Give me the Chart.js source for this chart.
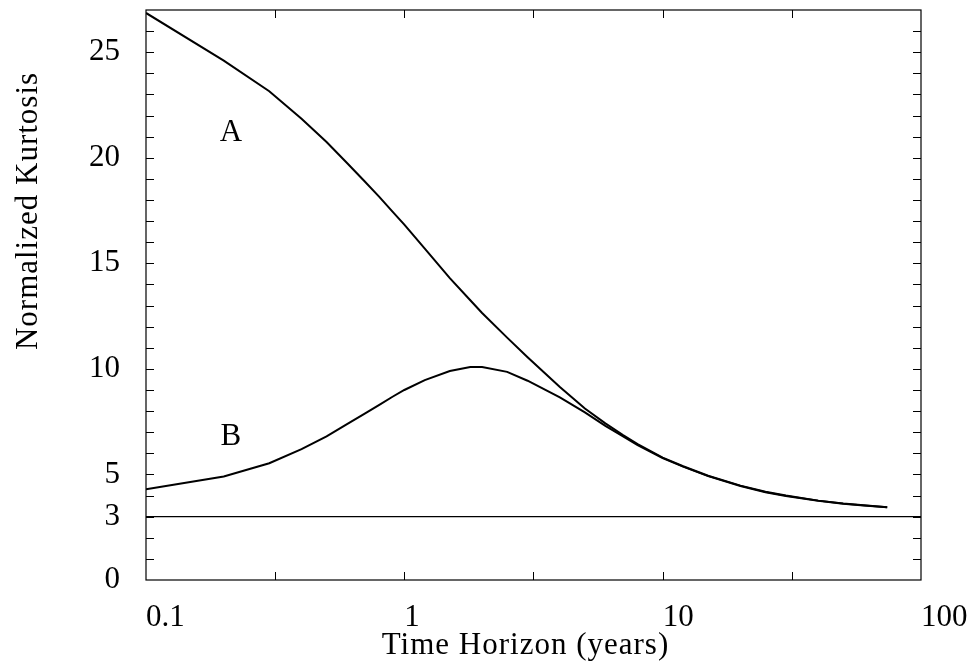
<!DOCTYPE html>
<html><head><meta charset="utf-8">
<script src="https://cdn.jsdelivr.net/npm/chart.js@4"></script>
<style>html,body{margin:0;padding:0;background:#fff}#wrap{width:970px;height:672px}</style>
</head><body><div id="wrap"><canvas id="c" width="970" height="672"></canvas></div>
<script>
// ---- data ----
const horizonYears = [0.1,0.2,0.3,0.4,0.5,0.6,0.7,0.8,0.9,1,1.2,1.5,1.8,2,2.5,3,4,5,6,7,8,10,12,15,20,25,30,40,50,60,74];
const kurtosisA = [26.86,24.60,23.15,21.85,20.75,19.75,18.90,18.15,17.45,16.83,15.70,14.30,13.25,12.65,11.48,10.55,9.14,8.12,7.42,6.88,6.44,5.80,5.39,4.94,4.47,4.18,4.00,3.76,3.62,3.54,3.45];
const kurtosisB = [4.30,4.90,5.53,6.20,6.80,7.38,7.87,8.30,8.68,9.00,9.47,9.90,10.09,10.09,9.86,9.44,8.65,7.94,7.30,6.82,6.39,5.77,5.37,4.92,4.45,4.16,3.98,3.75,3.61,3.53,3.45];
const gaussianLevel = 3;
const xTickValues = [0.1,1,10,100];
const xTickLabels = ['0.1','1','10','100'];
const yTickValues = [0,3,5,10,15,20,25];
const yTickLabels = ['0','3','5','10','15','20','25'];
const xMinorTicks = [0.316,1,3.16,10,31.6];
const yMinorTicks = [1,2,3,4,5,6,7,8,9,10,11,12,13,14,15,16,17,18,19,20,21,22,23,24,25,26];
const curveLabels = [{text:'A', x:0.213, y:21.28},{text:'B', x:0.213, y:6.87}];

const FONT = '"Liberation Serif", "Times New Roman", serif';

const framePlugin = {
  id:'frame',
  afterDraw(chart){
    const {ctx, chartArea:{left,right,top,bottom}, scales:{x,y}} = chart;
    ctx.save();
    ctx.strokeStyle = '#000';
    ctx.lineWidth = 1.2;
    ctx.strokeRect(left, top, right-left, bottom-top);
    ctx.lineWidth = 1;
    ctx.beginPath();
    for (const v of xMinorTicks){
      const px = Math.round(x.getPixelForValue(v)) + 0.5;
      ctx.moveTo(px, bottom); ctx.lineTo(px, bottom-8);
      ctx.moveTo(px, top); ctx.lineTo(px, top+8);
    }
    for (const v of yMinorTicks){
      const py = Math.round(y.getPixelForValue(v)) + 0.5;
      ctx.moveTo(left, py); ctx.lineTo(left+8, py);
      ctx.moveTo(right, py); ctx.lineTo(right-8, py);
    }
    ctx.stroke();
    ctx.fillStyle = '#000';
    ctx.font = '31px ' + FONT;
    ctx.textAlign = 'center';
    ctx.textBaseline = 'alphabetic';
    for (const l of curveLabels){
      ctx.fillText(l.text, x.getPixelForValue(l.x), y.getPixelForValue(l.y) + 10.5);
    }
    ctx.letterSpacing = '1px';
    ctx.fillText('Time Horizon (years)', 525.5, 654);
    ctx.translate(36.7, 211);
    ctx.rotate(-Math.PI/2);
    ctx.fillText('Normalized Kurtosis', 0, 0);
    ctx.restore();
  }
};

const lineStyle = {borderColor:'#000', pointRadius:0, tension:0, fill:false};
new Chart(document.getElementById('c'), {
  type:'line',
  data:{datasets:[
    Object.assign({label:'A', data:horizonYears.map((x,i)=>({x, y:kurtosisA[i]})), borderWidth:2}, lineStyle),
    Object.assign({label:'B', data:horizonYears.map((x,i)=>({x, y:kurtosisB[i]})), borderWidth:2}, lineStyle),
    Object.assign({label:'Normal', data:[{x:0.1,y:gaussianLevel},{x:100,y:gaussianLevel}], borderWidth:1.2}, lineStyle)
  ]},
  options:{
    responsive:false, animation:false, devicePixelRatio:1,
    layout:{padding:{left:0,right:49,top:10,bottom:0}},
    plugins:{legend:{display:false}, tooltip:{enabled:false}},
    scales:{
      x:{
        type:'logarithmic', min:0.1, max:100,
        grid:{display:false, drawTicks:false}, border:{display:false},
        ticks:{align:'start', padding:19, color:'#000', maxRotation:0, minRotation:0, autoSkip:false,
          font:{family:FONT, size:31},
          callback:(v)=>{const i = xTickValues.indexOf(v); return i>=0 ? xTickLabels[i] : '';}},
        afterBuildTicks:(s)=>{ s.ticks = xTickValues.map(v=>({value:v})); },
        afterFit:(s)=>{ s.height = 92; s.paddingLeft = 0; s.paddingRight = 0; }
      },
      y:{
        type:'linear', min:0, max:27,
        grid:{display:false, drawTicks:false}, border:{display:false},
        ticks:{padding:26, color:'#000', autoSkip:false, font:{family:FONT, size:31},
          callback:(v)=>{const i = yTickValues.indexOf(v); return i>=0 ? yTickLabels[i] : '';}},
        afterBuildTicks:(s)=>{ s.ticks = yTickValues.map(v=>({value:v})); },
        afterFit:(s)=>{ s.width = 146; s.paddingTop = 0; s.paddingBottom = 0; }
      }
    }
  },
  plugins:[framePlugin]
});
</script>
</body></html>
